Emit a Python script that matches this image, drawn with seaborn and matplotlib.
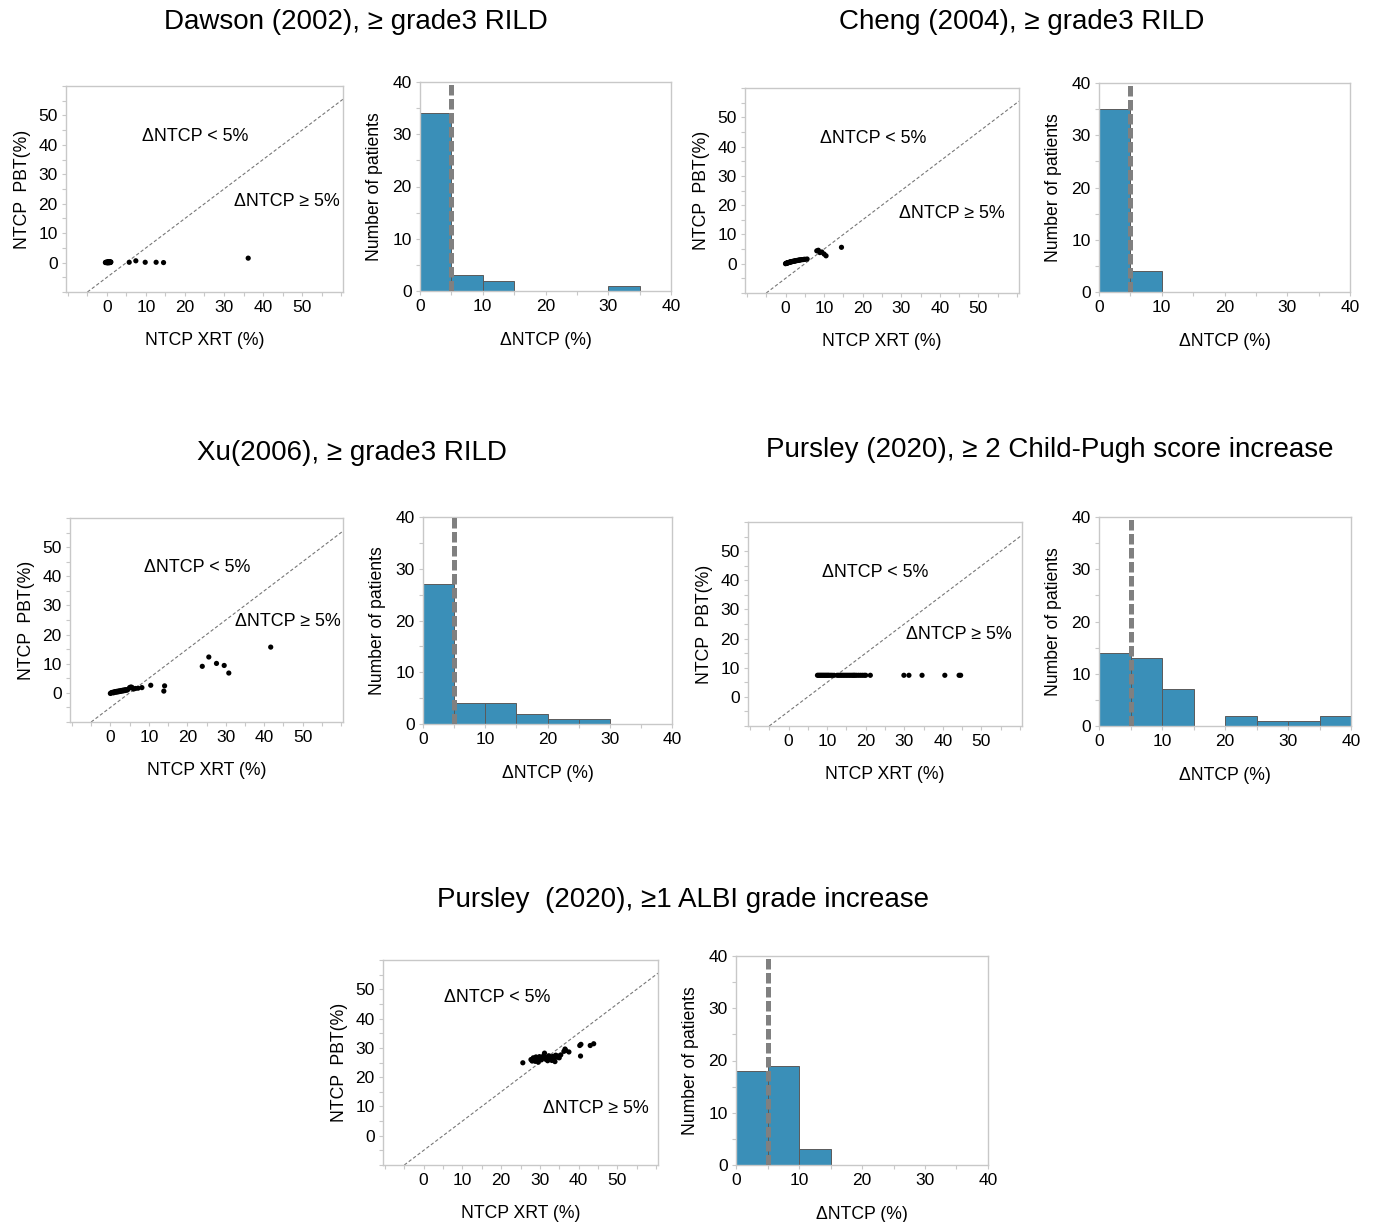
import seaborn as sns
import matplotlib.pyplot as plt
import matplotlib.ticker as mticker
import numpy as np

# ---- data ----
threshold = 5
bin_edges = [0, 5, 10, 15, 20, 25, 30, 35, 40]

# Dawson (2002)
dawson_xrt = [-0.4, -0.2, 0.0, 0.1, 0.2, 0.3, 0.4, 0.5, 0.6, 0.7, 0.8, 0.9,
              -0.3, 0.0, 0.2, 0.4, 0.6, 0.8, 1.0, 0.1, 0.3, 0.5, 0.7, 0.9,
              -0.1, 0.2, 0.4, 0.6, 0.0, 0.3, 0.5, 0.8, 0.1, 0.4,
              5.7, 7.4, 9.8, 12.6, 14.5, 36.2]
dawson_pbt = [0.0, 0.1, 0.0, 0.1, 0.0, 0.2, 0.1, 0.0, 0.1, 0.2,
              0.0, 0.1, 0.1, 0.0, 0.2, 0.1, 0.0, 0.1, 0.2, 0.0,
              0.1, 0.0, 0.2, 0.1, 0.0, 0.1, 0.0, 0.2, 0.1, 0.0,
              0.1, 0.2, 0.0, 0.1,
              0.1, 0.6, 0.1, 0.1, 0.0, 1.5]
dawson_counts = [34, 3, 2, 0, 0, 0, 1, 0]

# Cheng (2004)
cheng_xrt = [0.0, 0.1, 0.2, 0.3, 0.4, 0.5, 0.6, 0.7, 0.9, 1.0,
             1.1, 1.2, 1.4, 1.5, 1.7, 1.8, 2.0, 2.2, 2.4, 2.5,
             2.7, 2.9, 3.1, 3.3, 3.5, 3.7, 3.9, 4.2, 4.5, 4.8,
             5.1, 5.6, 8.1, 8.5, 8.9, 9.4, 10.0, 10.5, 14.5]
cheng_pbt = [0.0, 0.1, 0.1, 0.2, 0.2, 0.3, 0.3, 0.4, 0.4, 0.5,
             0.5, 0.6, 0.6, 0.7, 0.7, 0.8, 0.8, 0.9, 0.9, 1.0,
             1.0, 1.1, 1.1, 1.2, 1.2, 1.3, 1.3, 1.4, 1.4, 1.5,
             1.5, 1.6, 4.4, 4.6, 3.8, 4.0, 3.3, 2.7, 5.6]
cheng_counts = [35, 4, 0, 0, 0, 0, 0, 0]

# Xu (2006)
xu_xrt = [0.0, 0.2, 0.4, 0.6, 0.8, 1.0, 1.2, 1.4, 1.6, 1.8,
          2.0, 2.2, 2.4, 2.6, 2.8, 3.0, 3.2, 3.4, 3.6, 3.8,
          4.0, 4.3, 4.6, 5.0, 5.3, 5.6, 6.0, 6.5, 7.2, 8.2,
          10.5, 13.9, 14.1, 23.9, 25.6, 27.6, 29.6, 30.8, 41.7]
xu_pbt = [-0.2, 0.0, 0.1, 0.2, 0.0, 0.3, 0.4, 0.2, 0.5, 0.3,
          0.6, 0.4, 0.7, 0.5, 0.8, 0.6, 0.9, 0.7, 1.0, 0.8,
          1.1, 0.9, 1.2, 1.8, 2.0, 1.9, 1.3, 1.5, 1.6, 1.8,
          2.6, 0.6, 2.4, 9.1, 12.3, 10.1, 9.4, 6.8, 15.7]
xu_counts = [27, 4, 4, 2, 1, 1, 0, 0]

# Pursley (2020), Child-Pugh
pursley_cp_xrt = [7.5, 7.8, 8.1, 8.4, 8.7, 9.0, 9.3, 9.6, 9.9, 10.2,
                  10.5, 10.9, 11.3, 11.8, 12.6, 13.0, 13.4, 13.8, 14.2, 14.6,
                  15.0, 15.4, 15.8, 16.2, 16.6, 16.9, 17.2, 17.6, 18.1, 18.6,
                  19.1, 19.6, 20.0, 21.2, 29.9, 31.2, 34.6, 40.5, 44.2, 44.6]
pursley_cp_pbt = [7.4, 7.4, 7.4, 7.4, 7.4, 7.4, 7.4, 7.4, 7.4, 7.4,
                  7.4, 7.4, 7.4, 7.4, 7.4, 7.4, 7.4, 7.4, 7.4, 7.4,
                  7.4, 7.4, 7.4, 7.4, 7.4, 7.4, 7.4, 7.4, 7.4, 7.4,
                  7.4, 7.4, 7.4, 7.4, 7.4, 7.4, 7.4, 7.4, 7.4, 7.4]
pursley_cp_counts = [14, 13, 7, 0, 2, 1, 1, 2]

# Pursley (2020), ALBI
albi_xrt = [25.6, 27.7, 28.0, 28.3, 28.5, 28.8, 29.0, 29.2, 29.4, 29.6,
            29.9, 30.1, 30.4, 30.7, 31.0, 31.2, 31.5, 31.8, 32.0, 32.3,
            32.6, 32.9, 33.1, 33.4, 33.6, 33.9, 34.1, 34.4, 34.7, 35.0,
            35.4, 36.5, 36.7, 37.5, 40.3, 40.5, 40.6, 43.0, 43.9, 36.2]
albi_pbt = [24.9, 26.0, 25.5, 26.6, 26.2, 25.4, 26.9, 25.8, 26.5, 25.1,
            27.0, 26.3, 25.9, 26.8, 27.4, 28.2, 26.1, 26.7, 25.6, 27.3,
            26.0, 26.9, 25.7, 27.1, 26.4, 25.3, 27.5, 26.8, 27.2, 26.6,
            27.6, 29.6, 29.1, 28.6, 30.8, 27.2, 31.2, 30.8, 31.4, 28.8]
albi_counts = [18, 19, 3, 0, 0, 0, 0, 0]

titles = [
    "Dawson (2002), \u2265 grade3 RILD",
    "Cheng (2004), \u2265 grade3 RILD",
    "Xu(2006), \u2265 grade3 RILD",
    "Pursley (2020), \u2265 2 Child-Pugh score increase",
    "Pursley  (2020), \u22651 ALBI grade increase",
]

# ---- layout (pixels: left, top, right, bottom) ----
W, H = 1375, 1222
panels = [
    dict(xrt=dawson_xrt, pbt=dawson_pbt, counts=dawson_counts,
         sc=(66, 86, 343, 292), hi=(420, 82, 671, 291), title_xy=(356, 22),
         low=(22.6, 42.9), high=(46.2, 20.6)),
    dict(xrt=cheng_xrt, pbt=cheng_pbt, counts=cheng_counts,
         sc=(745, 88, 1019, 293), hi=(1099, 83, 1350, 292), title_xy=(1022, 22),
         low=(22.7, 42.6), high=(43.1, 17.2)),
    dict(xrt=xu_xrt, pbt=xu_pbt, counts=xu_counts,
         sc=(70, 518, 343, 722), hi=(423, 517, 672, 724), title_xy=(352, 453),
         low=(22.7, 42.9), high=(46.2, 24.5)),
    dict(xrt=pursley_cp_xrt, pbt=pursley_cp_pbt, counts=pursley_cp_counts,
         sc=(748, 522, 1022, 726), hi=(1099, 517, 1351, 726), title_xy=(1050, 450),
         low=(22.4, 42.6), high=(44.1, 21.3)),
    dict(xrt=albi_xrt, pbt=albi_pbt, counts=albi_counts,
         sc=(383, 960, 658, 1165), hi=(736, 956, 988, 1165), title_xy=(683, 900),
         low=(18.9, 47.3), high=(44.4, 9.2)),
]

sns.set_theme(style='white')
plt.rcParams['font.family'] = ['Liberation Sans', 'DejaVu Sans']
plt.rcParams['text.color'] = 'black'
plt.rcParams['axes.labelcolor'] = 'black'

SPINE = '#c8c8c8'
BAR = '#3a8fb8'


def rect(box):
    l, t, r, b = box
    return [l / W, 1 - b / H, (r - l) / W, (b - t) / H]


def style_axes(ax):
    for s in ax.spines.values():
        s.set_color(SPINE)
        s.set_linewidth(1.0)
    ax.tick_params(which='both', direction='out', length=3, width=0.8,
                   color=SPINE, labelsize=12.5, pad=3,
                   bottom=True, left=True, labelcolor='black')


def draw_scatter(ax, xrt, pbt, low, high):
    sns.scatterplot(x=xrt, y=pbt, ax=ax, color='black', s=14,
                    edgecolor='none', zorder=3)
    ax.axline((0, -threshold), slope=1, color='#777777', lw=0.8,
              ls=(0, (3, 2)))
    ax.set_xlim(-10.5, 60.5)
    ax.set_ylim(-10, 60)
    ax.xaxis.set_major_locator(mticker.FixedLocator([0, 10, 20, 30, 40, 50]))
    ax.yaxis.set_major_locator(mticker.FixedLocator([0, 10, 20, 30, 40, 50]))
    ax.xaxis.set_minor_locator(mticker.MultipleLocator(5))
    ax.yaxis.set_minor_locator(mticker.MultipleLocator(5))
    style_axes(ax)
    ax.set_xlabel('NTCP XRT (%)', fontsize=12.7, labelpad=12)
    ax.set_ylabel('NTCP  PBT(%)', fontsize=12.7, labelpad=5)
    ax.text(*low, '\u0394NTCP < 5%', ha='center', va='center', fontsize=12.9)
    ax.text(*high, '\u0394NTCP \u2265 5%', ha='center', va='center',
            fontsize=12.9)


def draw_hist(ax, counts):
    centers = np.array(bin_edges[:-1]) + 2.5
    sns.histplot(x=centers, weights=counts, bins=bin_edges, ax=ax,
                 color=BAR, alpha=1, edgecolor='#5a5a5a', linewidth=0.7)
    ax.axvline(threshold, color='#808080', lw=3.6, dashes=(2.1, 0.7),
               zorder=4)
    ax.set_xlim(0, 40)
    ax.set_ylim(0, 40)
    ax.xaxis.set_major_locator(mticker.MultipleLocator(10))
    ax.yaxis.set_major_locator(mticker.MultipleLocator(10))
    ax.xaxis.set_minor_locator(mticker.MultipleLocator(5))
    ax.yaxis.set_minor_locator(mticker.MultipleLocator(5))
    style_axes(ax)
    ax.set_xlabel('\u0394NTCP (%)', fontsize=12.7, labelpad=13)
    ax.set_ylabel('Number of patients', fontsize=12.7, labelpad=7)


fig = plt.figure(figsize=(W / 100, H / 100), dpi=100)

for p, title in zip(panels, titles):
    ax_s = fig.add_axes(rect(p['sc']))
    draw_scatter(ax_s, p['xrt'], p['pbt'], p['low'], p['high'])
    ax_h = fig.add_axes(rect(p['hi']))
    draw_hist(ax_h, p['counts'])
    tx, ty = p['title_xy']
    fig.text(tx / W, 1 - ty / H, title, ha='center', va='center',
             fontsize=20)

fig.savefig('out.png', dpi=100, facecolor='white')
